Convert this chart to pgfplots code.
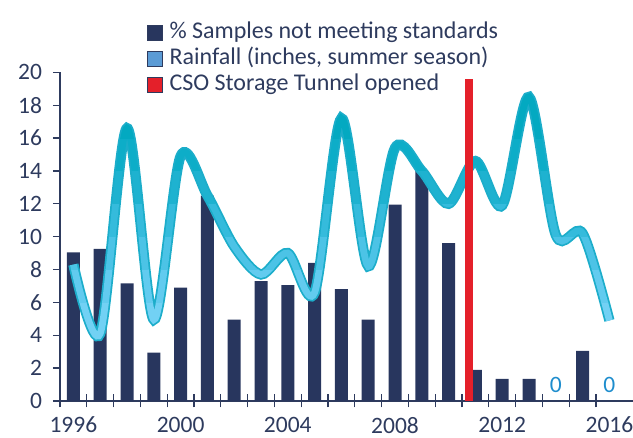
\documentclass[border=0pt]{standalone}
\usepackage{pgfplots}
\pgfplotsset{compat=1.18}
\usepackage{fontspec}
\setmainfont{Carlito}
\definecolor{navy}{HTML}{28365E}
\definecolor{txt}{HTML}{2E3B5E}
\definecolor{cso}{HTML}{E4202A}
\definecolor{rainout}{HTML}{1CADCA}
\definecolor{rainA}{HTML}{72D1F4}
\definecolor{rainB}{HTML}{62CBEF}
\definecolor{rainC}{HTML}{4CC3E6}
\definecolor{rainD}{HTML}{35BBDC}
\definecolor{rainE}{HTML}{1EB2D0}
\definecolor{rainF}{HTML}{0DADC8}
\definecolor{rainG}{HTML}{03A9C1}
\definecolor{rainleg}{HTML}{5B9BD5}
\definecolor{zero}{HTML}{1E8DCD}
\pgfplotstableread{
year samples
1996 9.05
1997 9.25
1998 7.15
1999 2.95
2000 6.9
2001 12.5
2002 4.95
2003 7.3
2004 7.05
2005 8.4
2006 6.8
2007 4.95
2008 11.95
2009 14.0
2010 9.6
2011 1.9
2012 1.35
2013 1.35
2014 0
2015 3.05
2016 0
}\samples
\pgfplotstableread{
year rain
1996 8.3
1997 4.1
1998 16.6
1999 4.95
2000 14.9
2001 12.5
2002 9.4
2003 7.7
2004 9.0
2005 6.6
2006 17.2
2007 8.2
2008 15.4
2009 14.0
2010 12.0
2011 14.6
2012 11.9
2013 18.5
2014 10.1
2015 10.2
2016 4.9
}\rain
\newcommand{\rainband}[3]{%
  \begin{scope}
  \clip (axis cs:1990,#1) rectangle (axis cs:2020,#2);
  \addplot[smooth, tension=0.5, line width=6.8pt, draw=#3, forget plot] table[x=year, y=rain] {\rain};
  \end{scope}}
\newcommand{\legsq}[1]{\draw[fill=#1, draw=txt, line width=0.6pt] (0pt,-7.5pt) rectangle (15pt,7.5pt); \path (21pt,0pt);}
\begin{document}
\begin{tikzpicture}
\useasboundingbox (0,0) rectangle (633pt,438pt);
\begin{axis}[
  at={(60pt,37pt)}, anchor=south west,
  scale only axis, width=573pt, height=328.7pt,
  xmin=1995.5, xmax=2016.88, ymin=0, ymax=20,
  axis x line*=bottom, axis y line*=left,
  axis line style={draw=txt, line width=1.3pt, -},
  clip=false,
  xtick={1996,2000,2004,2008,2012,2016},
  minor xtick={1995.5,1996.5,...,2015.5},
  major x tick style={draw=none},
  minor tick length=13pt,
  xtick align=center,
  ytick={0,2,...,20},
  ytick align=outside,
  major tick length=7pt,
  tick style={draw=txt, line width=1.3pt},
  /pgf/number format/assume math mode=true,
  x tick label style={/pgf/number format/1000 sep={}, yshift=-9pt},
  y tick label style={xshift=-7.5pt},
  tick label style={font=\fontsize{23.5}{27}\selectfont, text=txt},
  legend style={at={(0.151,1.162)}, anchor=north west, draw=none, fill=none,
    font=\fontsize{24}{27}\selectfont, text=txt, inner sep=0pt, row sep=0pt,
    nodes={inner sep=1.5pt, text height=17.5pt, text depth=5.8pt}},
  legend cell align=left,
]
\addplot[ybar, bar width=13pt, bar shift=0pt, fill=navy, draw=none,
  legend image code/.code={\legsq{navy}}]
  table[x=year, y=samples] {\samples};
\addlegendentry{\% Samples not meeting standards}
\addplot[smooth, tension=0.5, line width=10.3pt, draw=rainout, forget plot] table[x=year, y=rain] {\rain};
\rainband{-5}{6}{rainA}
\rainband{6}{8}{rainB}
\rainband{8}{10}{rainC}
\rainband{10}{12}{rainD}
\rainband{12}{14}{rainE}
\rainband{14}{16}{rainF}
\rainband{16}{25}{rainG}
\addplot[draw=none, legend image code/.code={\legsq{rainleg}}] coordinates {(2000,10)};
\addlegendentry{Rainfall (inches, summer season)}
\addplot[ybar, bar width=8pt, bar shift=0pt, fill=cso, draw=none,
  legend image code/.code={\legsq{cso}}]
  coordinates {(2010.76,19.6)};
\addlegendentry{CSO Storage Tunnel opened}
\node[anchor=base, text=zero, font=\fontsize{23.5}{27}\selectfont] at (axis cs:2014,0) [yshift=8pt] {0};
\node[anchor=base, text=zero, font=\fontsize{23.5}{27}\selectfont] at (axis cs:2016,0) [yshift=8pt] {0};
\end{axis}
\end{tikzpicture}
\end{document}
